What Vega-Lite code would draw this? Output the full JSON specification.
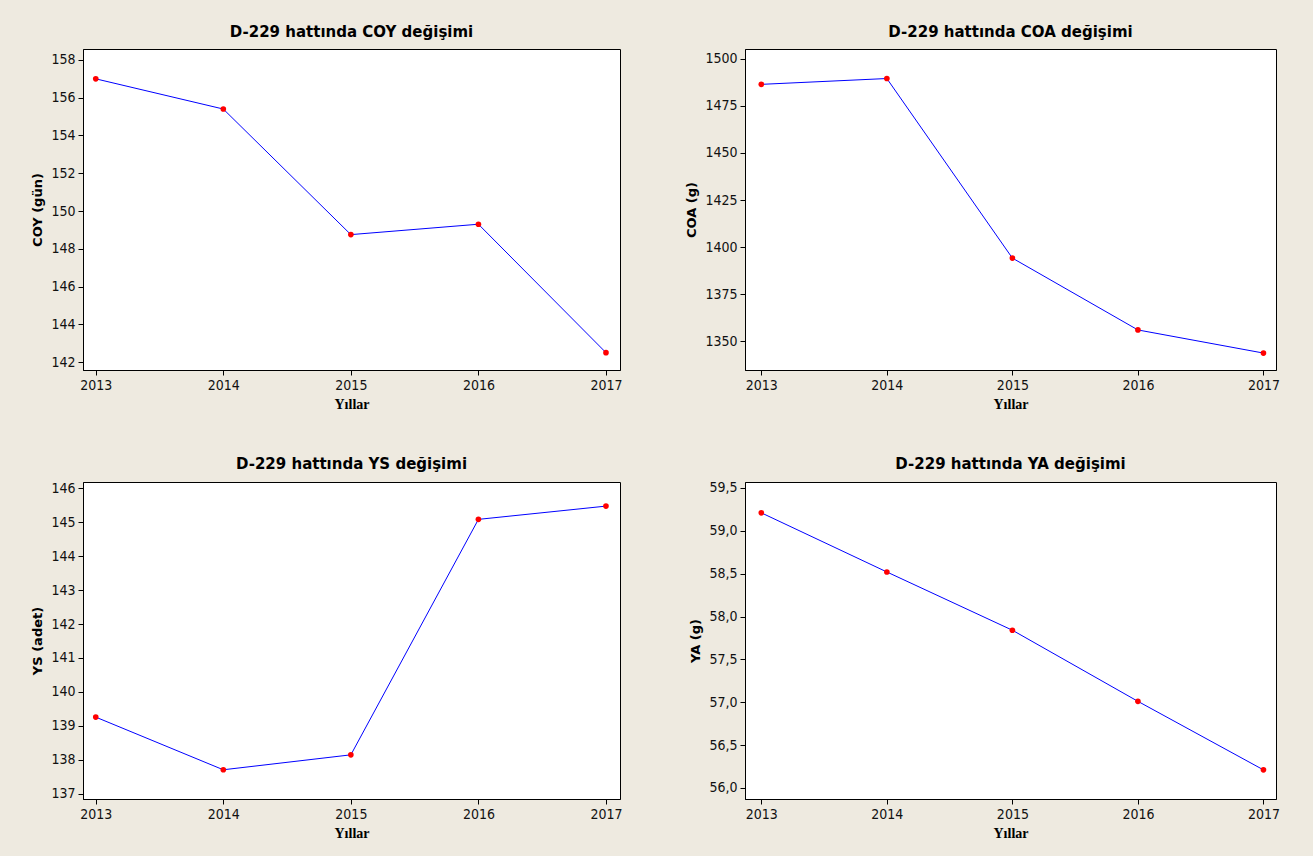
{
  "$schema": "https://vega.github.io/schema/vega-lite/v6.json",
  "background": "#EEEAE0",
  "padding": {"left": 31, "top": 24, "right": 36, "bottom": 16},
  "datasets": {
    "coy": [
      {"year": 2013, "value": 157.0},
      {"year": 2014, "value": 155.4},
      {"year": 2015, "value": 148.75},
      {"year": 2016, "value": 149.3},
      {"year": 2017, "value": 142.5}
    ],
    "coa": [
      {"year": 2013, "value": 1486.5},
      {"year": 2014, "value": 1489.6},
      {"year": 2015, "value": 1394.1},
      {"year": 2016, "value": 1355.9},
      {"year": 2017, "value": 1343.6}
    ],
    "ys": [
      {"year": 2013, "value": 139.26},
      {"year": 2014, "value": 137.71},
      {"year": 2015, "value": 138.15},
      {"year": 2016, "value": 145.08},
      {"year": 2017, "value": 145.47}
    ],
    "ya": [
      {"year": 2013, "value": 59.21},
      {"year": 2014, "value": 58.52},
      {"year": 2015, "value": 57.84},
      {"year": 2016, "value": 57.01},
      {"year": 2017, "value": 56.21}
    ]
  },
  "config": {
    "font": "DejaVu Sans",
    "view": {"stroke": "#000000", "fill": "#FFFFFF", "strokeWidth": 1},
    "axis": {
      "grid": false,
      "domainColor": "#000000",
      "tickColor": "#000000",
      "labelColor": "#111111",
      "labelFontSize": 14,
      "labelFont": "DejaVu Sans Condensed",
      "tickSize": 5,
      "titleColor": "#000000"
    },
    "axisX": {
      "titleFont": "Liberation Serif",
      "titleFontSize": 14,
      "titleFontWeight": "bold",
      "titlePadding": 5,
      "labelPadding": 3
    },
    "axisY": {
      "titleFont": "DejaVu Sans",
      "titleFontSize": 13,
      "titleFontWeight": "bold",
      "titlePadding": 6,
      "labelPadding": 3
    },
    "title": {"fontSize": 15, "fontWeight": "bold", "color": "#000000", "offset": 9, "font": "DejaVu Sans"}
  },
  "columns": 2,
  "spacing": {"column": 125, "row": 112},
  "bounds": "flush",
  "concat": [
    {
      "width": 537, "height": 321,
      "title": "D-229 hattında COY değişimi",
      "data": {"name": "coy"},
      "encoding": {
        "x": {"field": "year", "type": "quantitative", "scale": {"domain": [2012.9, 2017.11], "nice": false, "zero": false},
              "axis": {"values": [2013, 2014, 2015, 2016, 2017], "format": "d", "title": "Yıllar"}},
        "y": {"field": "value", "type": "quantitative", "scale": {"domain": [141.58, 158.58], "nice": false, "zero": false},
              "axis": {"values": [142, 144, 146, 148, 150, 152, 154, 156, 158], "format": "d", "title": "COY (gün)"}}
      },
      "layer": [
        {"mark": {"type": "line", "color": "#0000FF", "strokeWidth": 1}},
        {"mark": {"type": "circle", "color": "#FF0000", "size": 32, "opacity": 1}}
      ]
    },
    {
      "width": 531, "height": 321,
      "title": "D-229 hattında COA değişimi",
      "data": {"name": "coa"},
      "encoding": {
        "x": {"field": "year", "type": "quantitative", "scale": {"domain": [2012.87, 2017.1], "nice": false, "zero": false},
              "axis": {"values": [2013, 2014, 2015, 2016, 2017], "format": "d", "title": "Yıllar"}},
        "y": {"field": "value", "type": "quantitative", "scale": {"domain": [1334.6, 1505.3], "nice": false, "zero": false},
              "axis": {"values": [1350, 1375, 1400, 1425, 1450, 1475, 1500], "format": "d", "title": "COA (g)"}}
      },
      "layer": [
        {"mark": {"type": "line", "color": "#0000FF", "strokeWidth": 1}},
        {"mark": {"type": "circle", "color": "#FF0000", "size": 32, "opacity": 1}}
      ]
    },
    {
      "width": 537, "height": 317,
      "title": "D-229 hattında YS değişimi",
      "data": {"name": "ys"},
      "encoding": {
        "x": {"field": "year", "type": "quantitative", "scale": {"domain": [2012.9, 2017.11], "nice": false, "zero": false},
              "axis": {"values": [2013, 2014, 2015, 2016, 2017], "format": "d", "title": "Yıllar"}},
        "y": {"field": "value", "type": "quantitative", "scale": {"domain": [136.85, 146.18], "nice": false, "zero": false},
              "axis": {"values": [137, 138, 139, 140, 141, 142, 143, 144, 145, 146], "format": "d", "title": "YS (adet)"}}
      },
      "layer": [
        {"mark": {"type": "line", "color": "#0000FF", "strokeWidth": 1}},
        {"mark": {"type": "circle", "color": "#FF0000", "size": 32, "opacity": 1}}
      ]
    },
    {
      "width": 531, "height": 317,
      "title": "D-229 hattında YA değişimi",
      "data": {"name": "ya"},
      "encoding": {
        "x": {"field": "year", "type": "quantitative", "scale": {"domain": [2012.87, 2017.1], "nice": false, "zero": false},
              "axis": {"values": [2013, 2014, 2015, 2016, 2017], "format": "d", "title": "Yıllar"}},
        "y": {"field": "value", "type": "quantitative", "scale": {"domain": [55.87, 59.57], "nice": false, "zero": false},
              "axis": {"values": [56, 56.5, 57, 57.5, 58, 58.5, 59, 59.5], "labelExpr": "replace(format(datum.value, '.1f'), '.', ',')", "title": "YA (g)"}}
      },
      "layer": [
        {"mark": {"type": "line", "color": "#0000FF", "strokeWidth": 1}},
        {"mark": {"type": "circle", "color": "#FF0000", "size": 32, "opacity": 1}}
      ]
    }
  ]
}
